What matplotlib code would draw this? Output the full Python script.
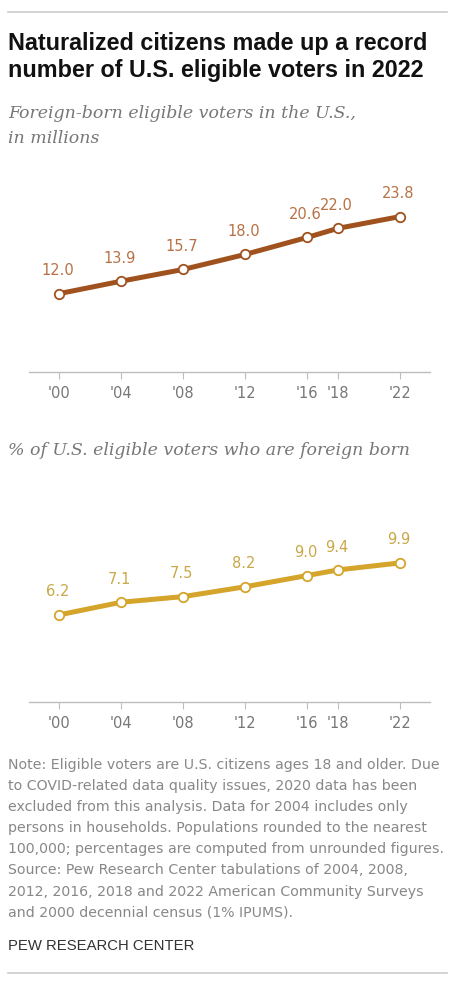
import matplotlib

matplotlib.use("Agg")
import matplotlib.pyplot as plt
from matplotlib.lines import Line2D

years = [2000, 2004, 2008, 2012, 2016, 2018, 2022]
tick_labels = ["'00", "'04", "'08", "'12", "'16", "'18", "'22"]
voters_millions = [12.0, 13.9, 15.7, 18.0, 20.6, 22.0, 23.8]
share_foreign_born = [6.2, 7.1, 7.5, 8.2, 9.0, 9.4, 9.9]

title = "Naturalized citizens made up a record\nnumber of U.S. eligible voters in 2022"
subtitle1 = ["Foreign-born eligible voters in the U.S.,", "in millions"]
subtitle2 = "% of U.S. eligible voters who are foreign born"
note_lines = [
    "Note: Eligible voters are U.S. citizens ages 18 and older. Due",
    "to COVID-related data quality issues, 2020 data has been",
    "excluded from this analysis. Data for 2004 includes only",
    "persons in households. Populations rounded to the nearest",
    "100,000; percentages are computed from unrounded figures.",
    "Source: Pew Research Center tabulations of 2004, 2008,",
    "2012, 2016, 2018 and 2022 American Community Surveys",
    "and 2000 decennial census (1% IPUMS).",
]

W, H = 456, 990
SANS = ["Liberation Sans", "DejaVu Sans"]
WIDE = ["DejaVu Sans"]
SERIF = ["DejaVu Serif"]


def fy(px):
    return 1 - px / H


def fx(px):
    return px / W


def panel(rect, values, ymax, line_color, label_color):
    ax = fig.add_axes(rect)
    ax.plot(years, values, color=line_color, lw=3.6, solid_capstyle="round", zorder=2)
    ax.plot(years, values, ls="none", marker="o", ms=6.8, mfc="white", mec=line_color, mew=1.3, zorder=3)
    for x, v in zip(years, values):
        ax.annotate(f"{v:.1f}", (x, v), xytext=(-1, 16.5), textcoords="offset points", ha="center",
                    va="center", fontsize=10.5, color=label_color, family=WIDE)
    ax.set_xlim(1998.06, 2023.94)
    ax.set_ylim(0, ymax)
    for s in ["top", "right", "left"]:
        ax.spines[s].set_visible(False)
    ax.spines["bottom"].set_color("#bdbdbd")
    ax.spines["bottom"].set_linewidth(1.0)
    ax.set_yticks([])
    ax.set_xticks(years)
    ax.set_xticklabels(tick_labels, family=WIDE, fontsize=10.5, color="#777777")
    ax.tick_params(axis="x", length=5, width=0.8, color="#bdbdbd", pad=5)
    return ax


fig = plt.figure(figsize=(W / 100, H / 100), dpi=100)

fig.add_artist(Line2D([fx(8), fx(447)], [fy(12), fy(12)], color="#cccccc", lw=1.2))
fig.add_artist(Line2D([fx(8), fx(447)], [fy(973), fy(973)], color="#cccccc", lw=1.2))

fig.text(fx(8), fy(50), title.split("\n")[0], family=SANS, weight="bold", fontsize=16.8, color="#111111",
         va="baseline")
fig.text(fx(8), fy(77), title.split("\n")[1], family=SANS, weight="bold", fontsize=16.8, color="#111111",
         va="baseline")
fig.text(fx(8), fy(118), subtitle1[0], family=SERIF, style="italic", fontsize=12.5, color="#777777",
         va="baseline")
fig.text(fx(8), fy(143), subtitle1[1], family=SERIF, style="italic", fontsize=12.5, color="#777777",
         va="baseline")

# million voters: 0 sits on the axis line at y=372px
panel([fx(29), fy(372), fx(430) - fx(29), 28 * 6.53 / H], voters_millions, 28, "#a0521e", "#b87145")

fig.text(fx(8), fy(455), subtitle2, family=SERIF, style="italic", fontsize=12.5, color="#777777", va="baseline")

panel([fx(29), fy(702), fx(430) - fx(29), 12 * 14.05 / H], share_foreign_born, 12, "#d4a52a", "#c9a848")

for i, line in enumerate(note_lines):
    fig.text(fx(8), fy(769 + i * 21.1), line, family=WIDE, fontsize=10.2, color="#888888", va="baseline")
fig.text(fx(8), fy(950), "PEW RESEARCH CENTER", family=SANS, fontsize=10.7, color="#333333", va="baseline")

fig.savefig("out.png", dpi=100)
